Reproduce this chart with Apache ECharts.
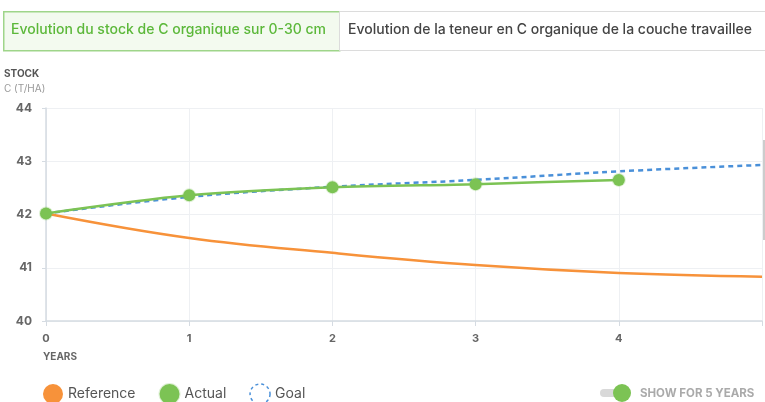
<!DOCTYPE html>
<html>
<head>
<meta charset="utf-8">
<script src="https://cdn.jsdelivr.net/npm/echarts@6/dist/echarts.min.js"></script>
<style>
  html, body { margin: 0; padding: 0; background: #fff; }
  #chart { width: 765px; height: 402px; }
</style>
</head>
<body>
<div id="chart"></div>
<script>
  // data
  var years = [0, 1, 2, 3, 4, 5]
  var referenceValues = [42.02, 41.56, 41.28, 41.05, 40.9, 40.83]
  var actualValues = [42.02, 42.36, 42.51, 42.57, 42.65]
  var goalValues = [42.02, 42.33, 42.52, 42.65, 42.81, 42.93]
  var yTicks = [40, 41, 42, 43, 44]
  var tabLabels = ['Evolution du stock de C organique sur 0-30 cm', 'Evolution de la teneur en C organique de la couche travaillee']

  function pairs(xs, ys) {
    return ys.map(function (v, i) { return [xs[i], v] })
  }

  var font = 'Inter, Lato, "Noto Sans", sans-serif'
  var chart = echarts.init(document.getElementById('chart'))

  var option = {
    animation: false,
    textStyle: { fontFamily: font },
    grid: { left: 46, right: 0, top: 108, bottom: 81 },
    xAxis: {
      type: 'value',
      min: 0,
      max: 5,
      interval: 1,
      axisLine: { show: true, lineStyle: { color: '#d5dbe2', width: 1.5 } },
      axisTick: { show: true, length: 5, lineStyle: { color: '#d5dbe2' } },
      axisLabel: {
        color: '#666', fontSize: 11, fontWeight: 'bold', margin: 12,
        formatter: function (v) { return v < 5 ? String(v) : '' }
      },
      splitLine: { show: true, lineStyle: { color: '#eef0f3' } }
    },
    yAxis: {
      type: 'value',
      min: yTicks[0],
      max: yTicks[yTicks.length - 1],
      interval: 1,
      axisLine: { show: true, lineStyle: { color: '#d5dbe2', width: 1.5 } },
      axisTick: { show: true, length: 4, lineStyle: { color: '#d5dbe2' } },
      axisLabel: { color: '#666', fontSize: 12, fontWeight: 'bold', margin: 14 },
      splitLine: { show: true, lineStyle: { color: '#eef0f3' } }
    },
    legend: {
      left: 38,
      top: 378,
      itemWidth: 20,
      itemHeight: 20,
      itemGap: 23,
      icon: 'circle',
      textStyle: { color: '#555', fontSize: 14, fontFamily: font },
      data: [
        { name: 'Reference', itemStyle: { color: '#f7923a' } },
        { name: 'Actual', itemStyle: { color: '#7cc354' } },
        { name: 'Goal', itemStyle: { color: '#fff', borderColor: '#4a90d9', borderWidth: 1.5, borderType: [3, 3] } }
      ]
    },
    series: [
      {
        name: 'Reference',
        type: 'line',
        smooth: 0.4,
        showSymbol: false,
        color: '#f7923a',
        lineStyle: { width: 2.5, color: '#f7923a' },
        data: pairs(years, referenceValues),
        z: 2
      },
      {
        name: 'Goal',
        type: 'line',
        smooth: 0.4,
        showSymbol: false,
        color: '#4a90d9',
        lineStyle: { width: 2.5, color: '#4a90d9', type: [5, 4] },
        data: pairs(years, goalValues),
        z: 3
      },
      {
        name: 'Actual',
        type: 'line',
        smooth: 0.3,
        symbol: 'circle',
        symbolSize: 12,
        color: '#7cc354',
        itemStyle: { color: '#7cc354', borderColor: 'rgba(124,195,84,0.25)', borderWidth: 2 },
        lineStyle: { width: 2.5, color: '#7cc354' },
        data: pairs(years, actualValues),
        z: 4
      }
    ],
    graphic: [
      // tabs
      {
        type: 'rect', left: 3, top: 11,
        shape: { width: 336, height: 39 },
        style: { fill: '#f3faef', stroke: '#9fd58a', lineWidth: 1.5 }
      },
      {
        type: 'text', left: 11, top: 23,
        style: { text: tabLabels[0], fill: '#5cb83a', font: '500 14px ' + font }
      },
      {
        type: 'rect', left: 339, top: 11,
        shape: { width: 428, height: 39 },
        style: { fill: '#fff', stroke: '#dcdcdc', lineWidth: 1 }
      },
      {
        type: 'text', left: 348, top: 23,
        style: { text: tabLabels[1], fill: '#444', font: '500 14px ' + font }
      },
      // y axis title
      {
        type: 'text', left: 4, top: 69,
        style: { text: 'STOCK', fill: '#555', font: 'bold 10px ' + font }
      },
      {
        type: 'text', left: 4, top: 84,
        style: { text: 'C (T/HA)', fill: '#999', font: '10px ' + font }
      },
      // x axis title
      {
        type: 'text', left: 43, top: 352,
        style: { text: 'YEARS', fill: '#666', font: 'bold 10px ' + font }
      },
      // right edge marker line
      {
        type: 'line', shape: { x1: 764, y1: 140, x2: 764, y2: 240 },
        style: { stroke: '#bbb', lineWidth: 1.5 }
      },
      // toggle
      {
        type: 'rect', left: 600, top: 389,
        shape: { width: 26, height: 8, r: 4 },
        style: { fill: '#d9d9d9' }
      },
      {
        type: 'circle', shape: { cx: 622, cy: 393, r: 9 },
        style: { fill: '#7cc354' }
      },
      {
        type: 'text', left: 640, top: 388,
        style: { text: 'SHOW FOR 5 YEARS', fill: '#aaa', font: 'bold 11.5px ' + font }
      }
    ]
  }

  chart.setOption(option)
</script>
</body>
</html>
